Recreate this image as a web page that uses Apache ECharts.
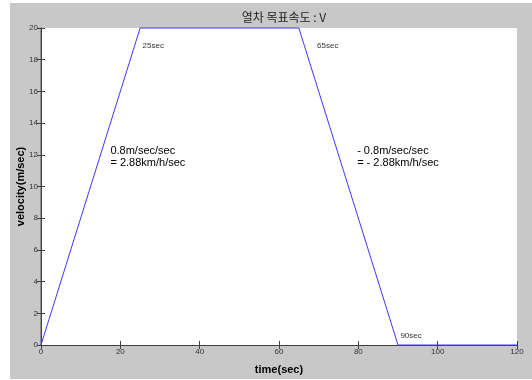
<!DOCTYPE html>
<html>
<head>
<meta charset="utf-8">
<script src="https://cdn.jsdelivr.net/npm/echarts@6/dist/echarts.min.js"></script>
<style>
  html, body { margin: 0; padding: 0; background: #fff; }
  .backdrop { position: absolute; left: 10px; top: 3px; width: 522px; height: 376px; background: #c8c8c8; }
  .trainChart { position: absolute; left: 0; top: 0; width: 532px; height: 380px; }
</style>
</head>
<body>
<div class="backdrop"></div>
<div class="trainChart"></div>
<script>
  // speed profile
  const timeSec = [0, 25, 65, 90, 120]
  const velocity = [0, 20, 20, 0, 0]

  // text notes on the plot
  const noteText = ['25sec', '65sec', '90sec', '0.8m/sec/sec\n= 2.88km/h/sec', '- 0.8m/sec/sec\n= - 2.88km/h/sec']
  const noteTime = [25.6, 69.6, 90.6, 17.5, 79.7]
  const noteVel = [18.85, 18.85, 0.55, 11.85, 11.85]

  const axisColor = '#404040'
  const font = 'Liberation Sans, Arial, sans-serif'

  const chart = echarts.init(document.getElementsByClassName('trainChart')[0])

  const notes = noteText.map((t, i) => {
    const small = i < 3
    return {
      coord: [noteTime[i], noteVel[i]],
      symbolSize: 0,
      label: {
        show: true,
        position: 'right',
        distance: 0,
        formatter: t,
        fontSize: small ? 8 : 11,
        lineHeight: small ? 10 : 12,
        color: small ? '#333' : '#000',
        fontFamily: font
      }
    }
  })

  const mirrorX = {
    type: 'value', position: 'top', min: 0, max: 120, interval: 20,
    axisLine: { show: true, lineStyle: { color: axisColor } },
    axisTick: { show: true, inside: true, length: 4, lineStyle: { color: axisColor } },
    axisLabel: { show: false }, splitLine: { show: false }
  }
  const mirrorY = {
    type: 'value', position: 'right', min: 0, max: 20, interval: 2,
    axisLine: { show: true, lineStyle: { color: axisColor } },
    axisTick: { show: true, inside: true, length: 4, lineStyle: { color: axisColor } },
    axisLabel: { show: false }, splitLine: { show: false }
  }

  chart.setOption({
    animation: false,
    textStyle: { fontFamily: font },
    title: {
      text: '열차 목표속도 : V',
      left: 279,
      textAlign: 'center',
      top: 6,
      textStyle: { fontSize: 12, fontWeight: 'normal', color: '#222', fontFamily: 'Noto Sans CJK KR, sans-serif' }
    },
    grid: {
      left: 41, right: 15, top: 28, bottom: 30,
      show: true, backgroundColor: '#fff', borderWidth: 0
    },
    xAxis: [{
      type: 'value', position: 'bottom', min: 0, max: 120, interval: 20,
      name: 'time(sec)', nameLocation: 'middle', nameGap: 19, nameMoveOverlap: false,
      nameTextStyle: { fontSize: 11, fontWeight: 'bold', color: '#000' },
      axisLine: { show: true, lineStyle: { color: axisColor } },
      axisTick: { show: true, inside: true, length: 4, lineStyle: { color: axisColor } },
      axisLabel: { fontSize: 8, color: '#333', margin: 3 },
      splitLine: { show: false }
    }, mirrorX],
    yAxis: [{
      type: 'value', position: 'left', min: 0, max: 20, interval: 2,
      name: 'velocity(m/sec)', nameLocation: 'middle', nameGap: 15, nameMoveOverlap: false,
      nameTextStyle: { fontSize: 11, fontWeight: 'bold', color: '#000' },
      axisLine: { show: true, lineStyle: { color: '#808080', width: 1.5 } },
      axisTick: { show: true, inside: true, length: 4, lineStyle: { color: axisColor } },
      axisLabel: { fontSize: 8, color: '#333', margin: 3 },
      splitLine: { show: false }
    }, mirrorY],
    series: [{
      name: 'velocity',
      type: 'line',
      xAxisIndex: 0,
      yAxisIndex: 0,
      data: timeSec.map((t, i) => [t, velocity[i]]),
      symbol: 'none',
      clip: false,
      z: 5,
      lineStyle: { color: '#3a3aff', width: 1 },
      markPoint: {
        symbol: 'circle',
        data: notes
      }
    }]
  })
</script>
</body>
</html>
